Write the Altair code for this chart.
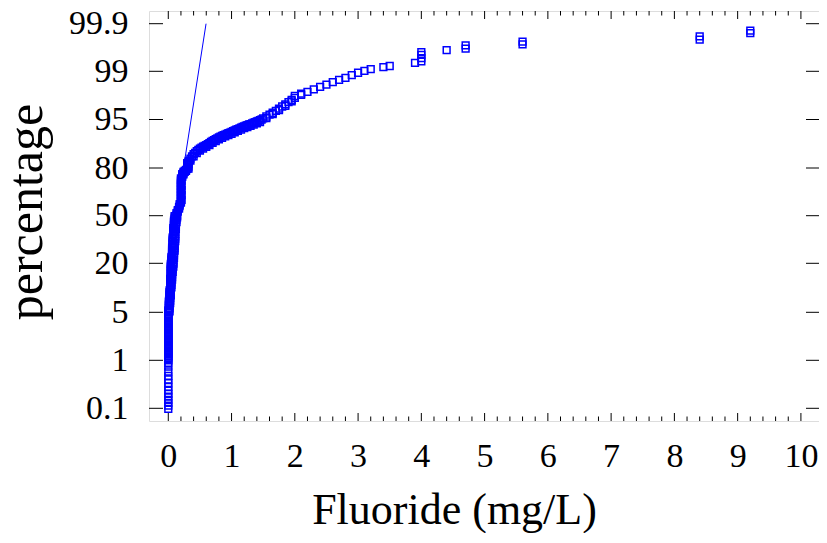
import altair as alt
import pandas as pd

# ---- data: fluoride value (mg/L) -> cumulative percentages
# of the samples plotted at that value (tied values form vertical stacks) ----
ZERO_GROUP = [(0.00, [0.09, 0.15, 0.2, 0.26, 0.32, 0.37, 0.43, 0.5, 0.57, 0.64, 0.71, 0.79,
                      0.88, 0.95, 1.0, 1.1, 1.2, 1.3, 1.4, 1.5, 1.6, 1.7, 1.8, 1.9, 2.0,
                      2.1, 2.2, 2.3, 2.4, 2.5, 2.6, 2.7, 2.8, 2.9, 3.0, 3.1, 3.2, 3.3, 3.4,
                      3.5, 3.6, 3.7, 3.8, 3.9, 4.0, 4.1, 4.2, 4.3, 4.4, 4.5, 4.6, 4.7, 4.8,
                      5.2, 5.6])]

LOW_GROUPS = [(0.01, [5.0, 5.4, 5.9, 6.3, 6.8, 7.2, 7.6, 8.1, 8.5]),
              (0.02, [9.0, 9.4, 9.9, 10.3, 10.8, 11.2, 11.7]),
              (0.03, [12.1, 12.6, 13.0, 13.5, 13.9, 14.4, 14.8, 15.3]),
              (0.04, [15.7, 16.2, 16.6, 17.1, 17.5, 18.0, 18.4, 18.9, 19.3, 19.8]),
              (0.02, [5.3, 6.2, 7.0]),
              (0.03, [7.8, 8.6, 9.4]),
              (0.04, [10.2, 11.0, 11.8]),
              (0.05, [12.6, 13.4, 14.2]),
              (0.06, [15.0, 15.8, 16.6]),
              (0.07, [17.4, 18.2]),
              (0.08, [19.0, 19.8])]

MID_GROUPS = [(0.05, [20.3, 21.2, 22.2, 23.1, 24.1]),
              (0.06, [25.0, 26.0, 26.9, 27.9, 28.8, 29.8]),
              (0.07, [30.7, 31.7, 32.6, 33.6, 34.5, 35.5, 36.4]),
              (0.08, [37.4, 38.3, 39.3, 40.2, 41.2, 42.1]),
              (0.09, [43.1, 44.0, 45.0, 45.9, 46.9]),
              (0.10, [47.8, 48.8, 49.7]),
              (0.08, [20.5, 22.0]),
              (0.09, [23.5, 25.0, 26.5]),
              (0.10, [28.0, 29.5, 31.0, 32.5]),
              (0.11, [34.0, 35.5, 37.0, 38.5, 40.0]),
              (0.12, [41.5, 43.0, 44.5]),
              (0.13, [46.0, 47.5]),
              (0.14, [49.0, 50.0])]

UP_GROUPS = [(0.13, [50.7, 51.6]), (0.15, [52.6, 53.5]), (0.17, [54.5, 55.4]),
             (0.18, [56.4, 57.3]),
             (0.20, [58.3, 59.2, 60.2, 61.1, 62.1, 63.0, 64.0, 64.9, 65.9, 66.8, 67.8,
                     68.7, 69.7, 70.6, 71.6, 72.5, 73.5]),
             (0.21, [60.0, 63.0, 66.0, 69.0, 72.0]),
             (0.22, [74.4, 75.3, 76.2]), (0.24, [76.0, 76.8, 77.5]),
             (0.26, [77.5, 78.2]), (0.28, [78.2, 78.8]),
             (0.30, [79.4, 80.0, 80.5, 80.9, 81.4]),
             (0.32, [79.6, 80.4, 81.2, 81.9])]

# band of closely spaced samples between 0.3 and 1.5 mg/L (fluoride, percentage)
CHAIN_PTS = [(0.300, 81.5), (0.325, 82.2), (0.350, 82.9), (0.375, 83.6), (0.400, 84.3),
             (0.425, 84.7), (0.450, 85.2), (0.475, 85.6), (0.500, 86.0), (0.525, 86.3),
             (0.550, 86.6), (0.575, 86.85), (0.600, 87.1), (0.625, 87.4), (0.650, 87.7),
             (0.675, 88.05), (0.700, 88.35), (0.725, 88.6), (0.750, 88.9), (0.775, 89.15),
             (0.800, 89.45), (0.825, 89.7), (0.850, 89.9), (0.875, 90.15), (0.900, 90.35),
             (0.925, 90.55), (0.950, 90.75), (0.975, 90.95), (1.000, 91.15), (1.025, 91.4),
             (1.050, 91.6), (1.075, 91.85), (1.100, 92.05), (1.125, 92.25), (1.150, 92.5),
             (1.175, 92.7), (1.200, 92.9), (1.225, 93.1), (1.250, 93.25), (1.275, 93.45),
             (1.300, 93.6), (1.325, 93.8), (1.350, 94.0), (1.375, 94.2), (1.400, 94.4),
             (1.425, 94.6), (1.450, 94.8), (1.475, 95.0)]

# lower edge of the same band
CHAIN_LOW_PTS = [(0.35, 82.3), (0.40, 83.6), (0.45, 84.6), (0.50, 85.4), (0.55, 86.0),
                 (0.60, 86.5), (0.65, 87.1), (0.70, 87.75), (0.75, 88.3), (0.80, 88.85),
                 (0.85, 89.3), (0.90, 89.75), (0.95, 90.15), (1.00, 90.55), (1.05, 91.0),
                 (1.10, 91.45), (1.15, 91.9), (1.20, 92.3), (1.25, 92.65), (1.30, 93.0),
                 (1.35, 93.4), (1.40, 93.8), (1.45, 94.2)]

UPPER_PTS = [(1.50, 95.1), (1.55, 95.25), (1.55, 95.12), (1.60, 95.41), (1.65, 95.56),
             (1.65, 95.45), (1.70, 95.71), (1.75, 95.9), (1.75, 95.78), (1.80, 96.08),
             (1.85, 96.26), (1.85, 96.14), (1.90, 96.45), (1.95, 96.63), (1.95, 96.5),
             (2.00, 96.8), (2.0, 96.95), (2.1, 97.05), (2.1, 97.15), (2.2, 97.3),
             (2.3, 97.5), (2.4, 97.7), (2.5, 97.9), (2.6, 98.1), (2.7, 98.28), (2.8, 98.45),
             (2.9, 98.69), (3.0, 98.88), (3.1, 99.01), (3.2, 99.04), (3.4, 99.08),
             (3.5, 99.10)]

TAIL_GROUPS = [(3.9, [99.16]), (4.0, [99.19, 99.25, 99.31, 99.36]), (4.4, [99.40]),
               (4.7, [99.43, 99.49]), (5.6, [99.51, 99.56]), (8.4, [99.60, 99.66]),
               (9.2, [99.72, 99.77])]

LINE_F = [0.258, 0.597]
LINE_PCT = [82.2, 99.9]

X_TICKS = [0, 1, 2, 3, 4, 5, 6, 7, 8, 9, 10]
X_MINOR = [0.2, 0.4, 0.6, 0.8, 1.2, 1.4, 1.6, 1.8, 2.2, 2.4, 2.6, 2.8, 3.2, 3.4, 3.6, 3.8,
           4.2, 4.4, 4.6, 4.8, 5.2, 5.4, 5.6, 5.8, 6.2, 6.4, 6.6, 6.8, 7.2, 7.4, 7.6, 7.8,
           8.2, 8.4, 8.6, 8.8, 9.2, 9.4, 9.6, 9.8]
Y_TICKS = [0.1, 1, 5, 20, 50, 80, 95, 99, 99.9]

# ---- layout ----
W, H = 670, 410
FONT = "Liberation Serif"
BLUE = "#0000ff"

rows = []
for groups in (ZERO_GROUP, LOW_GROUPS, MID_GROUPS, UP_GROUPS, TAIL_GROUPS):
    for val, pcts in groups:
        for p in pcts:
            rows.append((val, p))
rows += CHAIN_PTS + CHAIN_LOW_PTS + UPPER_PTS
df = pd.DataFrame(rows, columns=["x", "y"])
line_df = pd.DataFrame({"x": LINE_F, "y": LINE_PCT})

xs = alt.Scale(domain=[-0.305, 10.286], nice=False, zero=False)
ys = alt.Scale(type="linear",
               domain=[-0.138, 0.1, 1, 5, 20, 50, 80, 95, 99, 99.9, 100.14],
               range=[H, 397.3, 349.3, 301.3, 252.3, 204.7, 157, 108.5, 60.3, 12.7, 0],
               nice=False, zero=False)

xaxis = alt.Axis(values=X_TICKS, format="d", ticks=False, domain=False, grid=False,
                 labelFontSize=34, labelPadding=18, labelFont=FONT, labelColor="black",
                 labelFlush=False, labelOverlap=False,
                 title="Fluoride (mg/L)", titleFontSize=44, titleFont=FONT,
                 titleFontWeight="normal", titleColor="black", titleX=305, titleY=102,
                 titleBaseline="alphabetic", titleAlign="center")
yaxis = alt.Axis(values=Y_TICKS, format=".1~f", ticks=False, domain=False, grid=False,
                 labelFontSize=34, labelPadding=21, labelFont=FONT, labelColor="black",
                 labelFlush=False, labelOverlap=False,
                 title="percentage", titleFontSize=50, titleFont=FONT,
                 titleFontWeight="normal", titleColor="black", titleX=-108, titleY=200.5,
                 titleBaseline="alphabetic", titleAlign="center", titleAngle=270)

X = alt.X("x:Q", scale=xs, axis=xaxis)
Y = alt.Y("y:Q", scale=ys, axis=yaxis)

points = alt.Chart(df).mark_point(shape="square", filled=False, size=46,
                                  strokeWidth=1.5, color=BLUE, opacity=1).encode(x=X, y=Y)
fit = alt.Chart(line_df).mark_line(color=BLUE, strokeWidth=1).encode(x=X, y=Y)

xmaj = pd.DataFrame({"x": X_TICKS})
xmin = pd.DataFrame({"x": X_MINOR})
ytk = pd.DataFrame({"y": Y_TICKS})

tick = dict(color="black", strokeWidth=1)
bot_maj = alt.Chart(xmaj).mark_rule(**tick).encode(x=X, y=alt.value(H), y2=alt.value(H - 8))
top_maj = alt.Chart(xmaj).mark_rule(**tick).encode(x=X, y=alt.value(0), y2=alt.value(8))
bot_min = alt.Chart(xmin).mark_rule(**tick).encode(x=X, y=alt.value(H), y2=alt.value(H - 4.5))
top_min = alt.Chart(xmin).mark_rule(**tick).encode(x=X, y=alt.value(0), y2=alt.value(4.5))
left_y = alt.Chart(ytk).mark_rule(**tick).encode(y=Y, x=alt.value(0), x2=alt.value(14))
right_y = alt.Chart(ytk).mark_rule(**tick).encode(y=Y, x=alt.value(W), x2=alt.value(W - 13))

chart = alt.layer(bot_maj, top_maj, bot_min, top_min, left_y, right_y, fit, points).properties(
    width=W, height=H,
    padding={"left": 141, "top": 3, "right": 0, "bottom": 112},
    autosize=alt.AutoSizeParams(type="none"),
).configure_view(stroke="black", strokeWidth=1.5).configure(font=FONT)

chart.save("out.html", embed_options={"renderer": "svg", "actions": False})
